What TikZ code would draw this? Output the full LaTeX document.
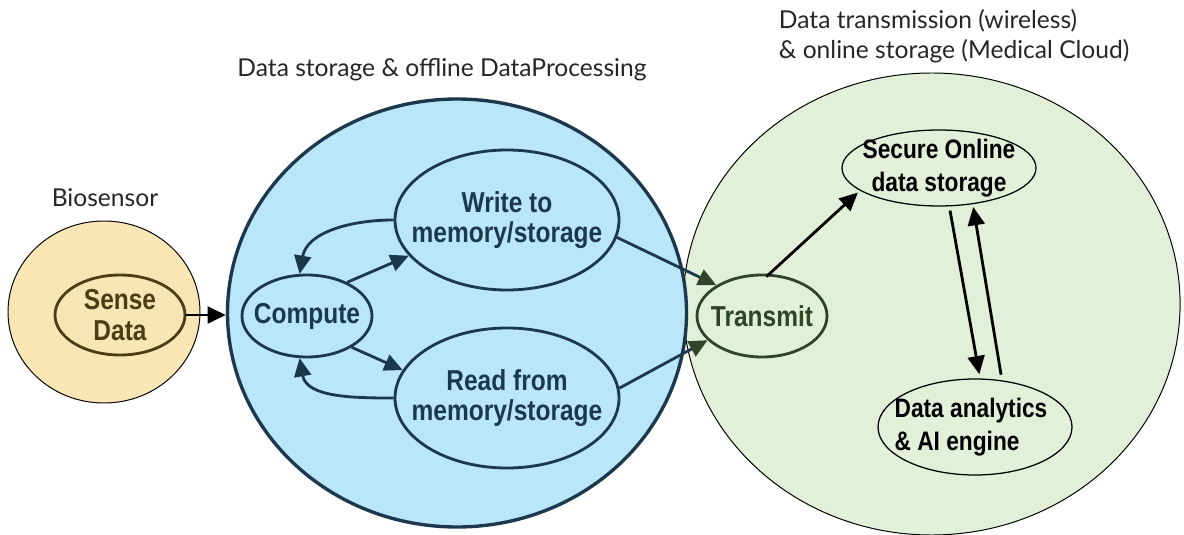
\documentclass[tikz,border=0pt]{standalone}
\usepackage{fontspec}
\setmainfont{Lato}
\newfontfamily\boxfont[FakeStretch=0.85]{Liberation Sans}
\usetikzlibrary{shapes.geometric, arrows.meta}
\definecolor{sandfill}{RGB}{250,230,180}
\definecolor{sandline}{RGB}{78,60,22}
\definecolor{skyfill}{RGB}{185,230,248}
\definecolor{navy}{RGB}{28,56,76}
\definecolor{mintfill}{RGB}{226,240,217}
\definecolor{forest}{RGB}{48,68,38}
\tikzset{
  every node/.style={font=\fontsize{17.5}{21}\selectfont},
  zone/.style={ellipse, inner sep=0pt, line width=0.7pt, draw=black},
  task/.style={ellipse, draw=black, inner sep=0pt, line width=2pt},
  tasktext/.style={align=center, inner sep=0pt, font=\boxfont\bfseries\fontsize{20.5}{21.5}\selectfont},
  cloudtext/.style={tasktext, font=\boxfont\bfseries\fontsize{19}{23}\selectfont},
  toplab/.style={align=left, text=black!85},
  flow/.style={line width=2pt, -{Triangle[length=13pt, width=12pt]}},
}

\begin{document}
\begin{tikzpicture}
  \useasboundingbox (0,0) rectangle (29.6,-13.375);

  % ---- the three stages -----------------------------------------------------
  \node[zone, fill=sandfill, minimum width=4.8cm, minimum height=4.55cm] (bio) at (2.6,-7.8) {};
  \node[zone, fill=mintfill, minimum width=12.425cm, minimum height=11.55cm] (cloud) at (23.29,-7.6) {};
  \node[zone, fill=skyfill, draw=navy, line width=2.4pt, minimum width=11.475cm, minimum height=10.7cm] (store) at (11.425,-7.825) {};

  % ---- stage labels ---------------------------------------------------------
  \node[toplab] (biolab) at (2.625,-4.95) {Biosensor};
  \node[toplab] (storelab) at (11.05,-1.75) {Data storage \& offline DataProcessing};
  \node[toplab, anchor=west] (cloudlab) at (19.35,-0.9) {Data transmission (wireless)\\\& online storage (Medical Cloud)};

  % ---- tasks (fixed-size ellipses, text set as a centred label) -------------
  \node[task, draw=sandline, minimum width=3.25cm, minimum height=2cm,
    label={[tasktext, text=sandline]center:{Sense\\Data}}] (sense) at (3.0,-7.875) {};
  \node[task, draw=navy, minimum width=3.25cm, minimum height=2.05cm,
    label={[tasktext, text=navy]center:Compute}] (compute) at (7.675,-7.9) {};
  \node[task, draw=navy, minimum width=5.6cm, minimum height=3.5cm,
    label={[tasktext, text=navy]center:{Write to\\memory/storage}}] (write) at (12.675,-5.5) {};
  \node[task, draw=navy, minimum width=5.6cm, minimum height=3.5cm,
    label={[tasktext, text=navy]center:{Read from\\memory/storage}}] (read) at (12.675,-9.95) {};
  \node[task, draw=forest, minimum width=3.25cm, minimum height=2.05cm,
    label={[tasktext, text=forest]center:Transmit}] (transmit) at (19.05,-7.9) {};
  \node[task, line width=0.9pt, minimum width=4.85cm, minimum height=1.9cm,
    label={[cloudtext]center:{Secure Online\\data storage}}] (secure) at (23.475,-4.2) {};
  \node[task, line width=0.9pt, minimum width=4.85cm, minimum height=2.4cm,
    label={[cloudtext, align=left, xshift=-1mm]center:{Data analytics\\\& AI engine}}] (engine) at (24.375,-10.675) {};

  % ---- connectors -----------------------------------------------------------
  \draw[flow] (sense.east) -- (sense.east -| store.west);
  \draw[flow, navy] (write.west) to[out=180, in=80] (compute.100);
  \draw[flow, navy] (compute.40) -- (write.200);
  \draw[flow, navy] (compute.-35) -- (read.165);
  \draw[flow, navy] (read.west) to[out=180, in=-80] (compute.-100);
  \draw[line width=2pt, navy, -{Triangle[length=13pt, width=12pt, color=forest]}] (write.-9) -- (transmit.146);
  \draw[line width=2pt, navy, -{Triangle[length=13pt, width=12pt, color=forest]}] (read.5) -- (transmit.-156);
  \draw[flow, shorten <=-3pt, shorten >=2pt] (transmit.80) -- (secure.196);
  \draw[flow, shorten <=3pt, shorten >=3pt] (secure.-75) -- (engine.84);
  \draw[flow, shorten <=4pt, shorten >=2pt] (engine.60) -- (secure.-47);
\end{tikzpicture}
\end{document}
